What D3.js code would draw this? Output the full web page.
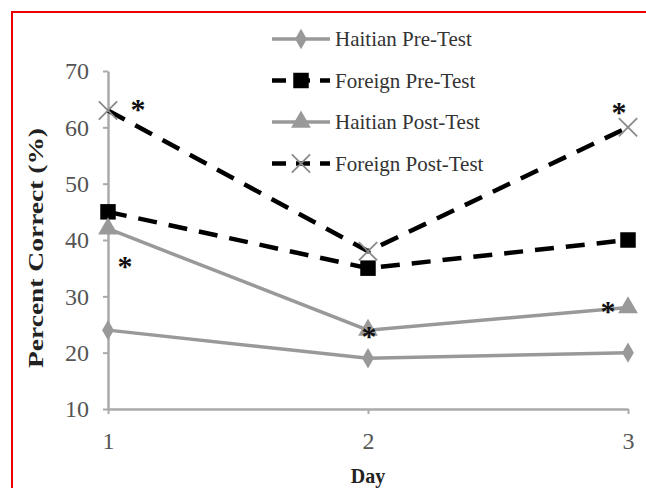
<!DOCTYPE html>
<html>
<head>
<meta charset="utf-8">
<script src="https://cdn.jsdelivr.net/npm/d3@7"></script>
<style>
  body { margin: 0; background: #fff; }
  svg { display: block; }
</style>
</head>
<body>
<svg id="chart" width="646" height="488"></svg>
<script>
'use strict';

// data
var days = [1, 2, 3];
var yTicks = [10, 20, 30, 40, 50, 60, 70];
var haitianPre  = [24, 19, 20];
var foreignPre  = [45, 35, 40];
var haitianPost = [42, 24, 28];
var foreignPost = [63, 38, 60];
var seriesNames = ["Haitian Pre-Test", "Foreign Pre-Test", "Haitian Post-Test", "Foreign Post-Test"];
// significance stars: [day, value], offsets kept apart below
var starPoints = [[1, 63], [1, 42], [2, 24], [3, 28], [3, 60]];
var starOffsets = [[30, -5], [17, 33], [1, 2], [-20, -1], [-9, -19]];

var series = [
    {name: seriesNames[0], values: haitianPre,  color: "#999", dash: null,    marker: "diamond"},
    {name: seriesNames[1], values: foreignPre,  color: "#000", dash: "19,12", marker: "square"},
    {name: seriesNames[2], values: haitianPost, color: "#999", dash: null,    marker: "triangle"},
    {name: seriesNames[3], values: foreignPost, color: "#000", dash: "19,12", marker: "cross"}
];

var svg = d3.select("#chart");
var margin = {top: 71, left: 108};

// red frame
svg.append("rect")
    .attr("x", 12).attr("y", 12)
    .attr("width", 646).attr("height", 488)
    .attr("fill", "none").attr("stroke", "#e00").attr("stroke-width", 2);

var g = svg.append("g").attr("transform", "translate(" + margin.left + "," + margin.top + ")");

var x = d3.scaleLinear().domain([1, 3]).range([0, 520]);
var y = d3.scaleLinear().domain([10, 70]).range([338, 0]);

var serif = "'Liberation Serif', 'Times New Roman', serif";

// axes
var xAxis = g.append("g").attr("transform", "translate(0,338)")
    .call(d3.axisBottom(x).tickValues(days).tickFormat(d3.format("d")).tickSizeInner(5).tickSizeOuter(0).tickPadding(18));
var yAxis = g.append("g")
    .call(d3.axisLeft(y).tickValues(yTicks).tickSizeInner(5).tickSizeOuter(0).tickPadding(14));

[xAxis, yAxis].forEach(function(a) {
    a.select(".domain").attr("stroke", "#aaa").attr("stroke-width", 2.5);
    a.selectAll(".tick line").attr("stroke", "#aaa").attr("stroke-width", 2);
    a.selectAll(".tick text")
        .attr("fill", "#555")
        .style("font-family", serif)
        .style("font-size", "24px");
});

// axis titles
svg.append("text")
    .attr("x", 368).attr("y", 483)
    .attr("text-anchor", "middle")
    .style("font-family", serif).style("font-weight", "bold").style("font-size", "20px")
    .attr("fill", "#222")
    .text("Day");
svg.append("text")
    .attr("transform", "translate(43,248) rotate(-90)")
    .attr("text-anchor", "middle")
    .attr("textLength", 240).attr("lengthAdjust", "spacingAndGlyphs")
    .style("font-family", serif).style("font-weight", "bold").style("font-size", "22px")
    .attr("fill", "#222")
    .text("Percent Correct (%)");

function drawMarker(sel, type, color) {
    if (type === "diamond") {
        sel.append("path").attr("d", d3.symbol().type(d3.symbolDiamond).size(120)).attr("fill", color);
    } else if (type === "square") {
        sel.append("path").attr("d", d3.symbol().type(d3.symbolSquare).size(240)).attr("fill", color);
    } else if (type === "triangle") {
        sel.append("path").attr("d", d3.symbol().type(d3.symbolTriangle).size(170)).attr("fill", color);
    } else {
        sel.append("path").attr("d", d3.symbol().type(d3.symbolX).size(220))
            .attr("fill", "none").attr("stroke", "#8a8a8a").attr("stroke-width", 1.8);
    }
}

var line = d3.line()
    .x(function(d, i) { return x(days[i]); })
    .y(function(d) { return y(d); });

series.forEach(function(s) {
    g.append("path")
        .attr("d", line(s.values))
        .attr("fill", "none")
        .attr("stroke", s.color)
        .attr("stroke-width", s.dash ? 4.5 : 3.5)
        .attr("stroke-dasharray", s.dash);
    s.values.forEach(function(v, i) {
        var m = g.append("g").attr("transform", "translate(" + x(days[i]) + "," + y(v) + ")");
        drawMarker(m, s.marker, s.color);
    });
});

// stars
starPoints.forEach(function(p, i) {
    g.append("text")
        .attr("x", x(p[0]) + starOffsets[i][0])
        .attr("y", y(p[1]) + starOffsets[i][1] + 14)
        .attr("text-anchor", "middle")
        .style("font-family", serif).style("font-size", "30px").style("font-weight", "bold")
        .attr("fill", "#111")
        .text("*");
});

// legend
var legend = svg.append("g").attr("transform", "translate(272,39)");
series.forEach(function(s, i) {
    var row = legend.append("g").attr("transform", "translate(0," + (i * 41.5) + ")");
    row.append("line")
        .attr("x1", 0).attr("x2", 58).attr("y1", 0).attr("y2", 0)
        .attr("stroke", s.color)
        .attr("stroke-width", s.dash ? 4.5 : 3.5)
        .attr("stroke-dasharray", s.dash ? "14,10" : null);
    var m = row.append("g").attr("transform", "translate(29,0)");
    drawMarker(m, s.marker, s.color);
    row.append("text")
        .attr("x", 63).attr("y", 7)
        .style("font-family", serif).style("font-size", "21px")
        .attr("fill", "#333")
        .text(s.name);
});
</script>
</body>
</html>
